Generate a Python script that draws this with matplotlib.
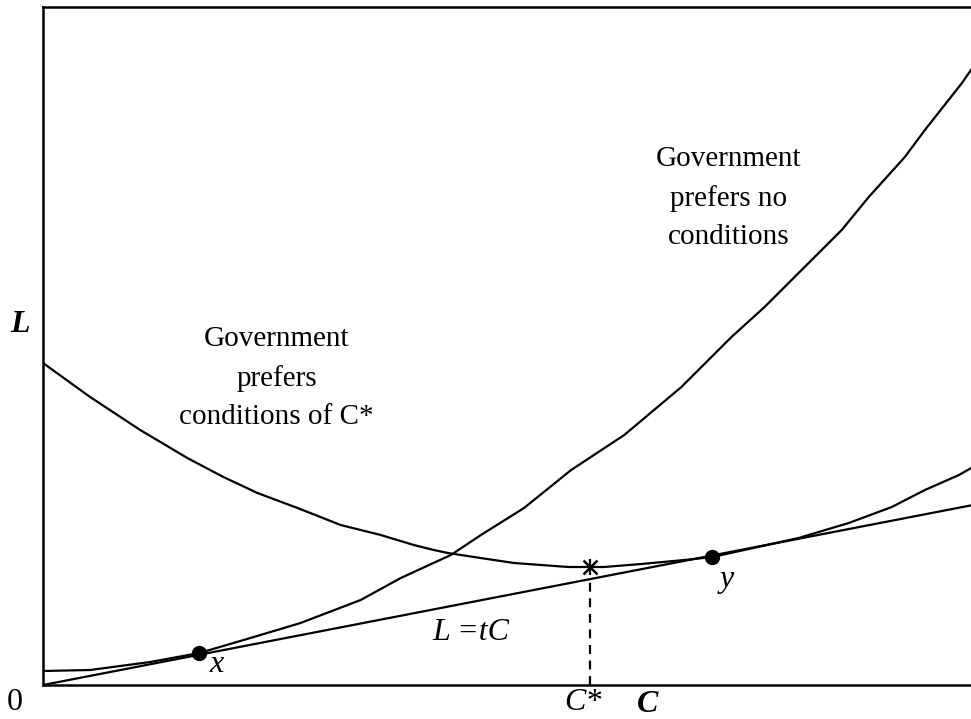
import matplotlib.pyplot as plt

# Werte (x = C, y = L, beliebige Einheiten)
cost_c = [0, 47, 107, 156, 207, 257, 317, 357, 407, 437, 480, 527, 580, 637, 687,
          720, 764, 797, 824, 860, 880, 917, 928]
cost_l = [14, 15, 23, 32, 47, 62, 85, 107, 130, 150, 177, 215, 250, 298, 348,
          378, 422, 455, 488, 528, 555, 602, 618]

gov_c = [0, 47, 97, 144, 180, 214, 254, 297, 337, 370, 390, 404, 430, 470, 524,
         546, 560, 597, 640, 668, 754, 804, 847, 880, 914, 928]
gov_l = [322, 288, 255, 227, 208, 192, 177, 160, 150, 140, 135, 132, 128, 122, 118,
         118, 118, 121, 125, 128, 147, 162, 178, 195, 210, 218]

line_c = [0, 928]
line_l = [0, 180]

c_star = 546
c_star_l = 118
c_star_line = 106
point_x = (156, 32)
point_y = (668, 128)

plt.rcParams['font.family'] = ['Liberation Serif', 'DejaVu Serif']

fig = plt.figure(figsize=(9.71, 7.19), dpi=100)
ax = fig.add_axes([43 / 971, 34 / 719, 930 / 971, 678 / 719])

ax.plot(line_c, line_l, color='black', linewidth=1.6)
ax.plot(cost_c, cost_l, color='black', linewidth=1.6)
ax.plot(gov_c, gov_l, color='black', linewidth=1.6)

# gestrichelte Linie bei C*
ax.plot([c_star, c_star], [0, c_star_line], color='black', linewidth=1.6,
        linestyle=(0, (4, 3)))
ax.plot([c_star], [c_star_l], marker='x', color='black', markersize=10,
        markeredgewidth=1.8)
ax.plot([c_star], [c_star_l], marker='|', color='black', markersize=12,
        markeredgewidth=1.6)

ax.plot(*point_x, marker='o', color='black', markersize=10)
ax.plot(*point_y, marker='o', color='black', markersize=10)

ax.set_xlim(0, 928)
ax.set_ylim(0, 678)
ax.set_xticks([])
ax.set_yticks([])
for s in ax.spines.values():
    s.set_linewidth(1.8)

ax.text(684, 487, 'Government\nprefers no\nconditions', ha='center', va='center',
        fontsize=21, linespacing=1.6)
ax.text(233, 307, 'Government\nprefers\nconditions of C*', ha='center', va='center',
        fontsize=21, linespacing=1.6)
ax.text(427, 52, 'L =tC', ha='center', va='center', fontsize=23,
        fontstyle='italic')
ax.text(173, 20, 'x', ha='center', va='center', fontsize=23, fontstyle='italic')
ax.text(682, 106, 'y', ha='center', va='center', fontsize=23, fontstyle='italic')

fig.text(20 / 971, 1 - 325 / 719, 'L', ha='center', va='center', fontsize=23,
         fontstyle='italic', fontweight='bold')
fig.text(15 / 971, 1 - 703 / 719, '0', ha='center', va='center', fontsize=23)
fig.text(583 / 971, 1 - 702 / 719, 'C*', ha='center', va='center', fontsize=23,
         fontstyle='italic')
fig.text(648 / 971, 1 - 704 / 719, 'C', ha='center', va='center', fontsize=23,
         fontstyle='italic', fontweight='bold')

plt.savefig('out.png', dpi=100)
plt.close()
